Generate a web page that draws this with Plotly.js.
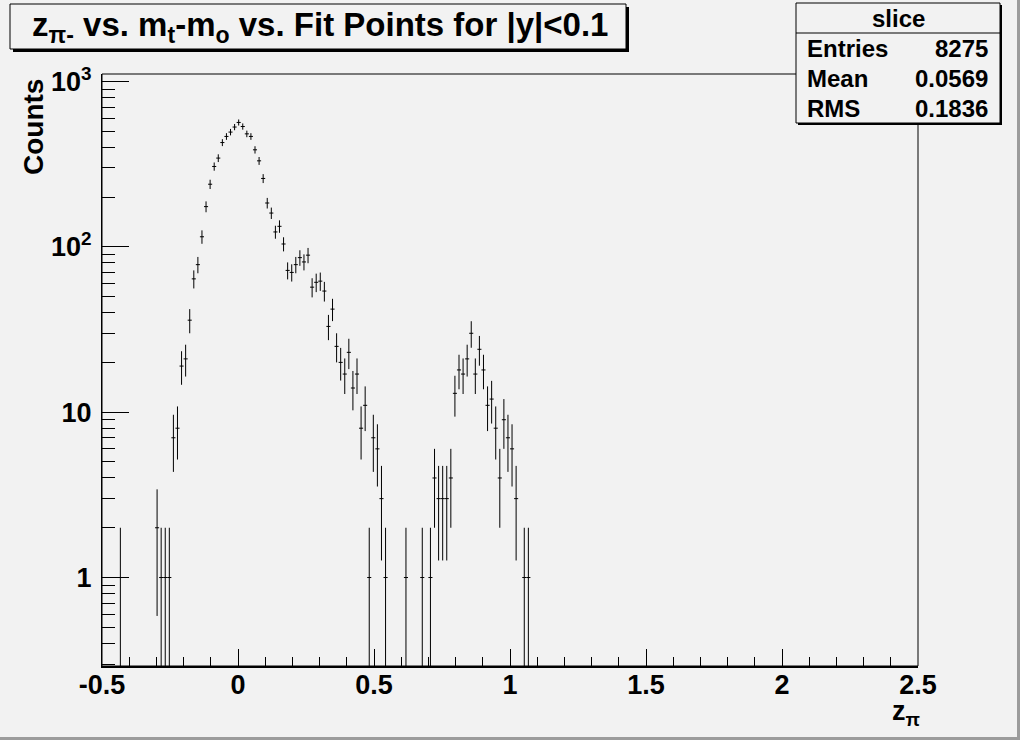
<!DOCTYPE html>
<html><head><meta charset="utf-8">
<script src="https://cdn.plot.ly/plotly-3.0.1.min.js"></script>
<style>html,body{margin:0;padding:0;background:#f2f2f2;overflow:hidden}</style>
</head><body>
<div id="chart" style="width:1020px;height:740px"></div>
<script>
// histogram binning: 200 bins from -0.5 to 2.5
const binLow = -0.5;
const binWidth = 0.015;
// counts per bin, starting at bin 0 (bins after the listed ones are empty)
const counts = [
  0, 0, 0, 0, 1, 0, 0, 0, 0, 0,
  0, 0, 0, 2, 1, 1, 1, 7, 8, 19,
  21, 36, 64, 78, 115, 175, 239, 306, 344, 427,
  465, 494, 530, 565, 534, 482, 465, 386, 331, 259,
  184, 160, 123, 133, 104, 72, 70, 78, 86, 81,
  89, 57, 61, 62, 54, 33, 42, 25, 20, 17,
  23, 14, 17, 8, 11, 1, 7, 6, 3, 1,
  0, 0, 0, 0, 1, 0, 0, 0, 1, 0,
  1, 4, 3, 3, 3, 4, 13, 18, 17, 21,
  30, 17, 24, 18, 11, 12, 8, 4, 9, 7,
  6, 3, 0, 1, 1
];
const xTickVals = [-0.5, 0, 0.5, 1, 1.5, 2, 2.5];
const xTickText = ['-0.5', '0', '0.5', '1', '1.5', '2', '2.5'];
const yTickVals = [1, 10, 100, 1000];
const yTickText = ['1', '10', '10<sup>2</sup>', '10<sup>3</sup>'];
const histName = 'slice';
const statLabels = ['Entries', 'Mean', 'RMS'];
const statValues = ['8275', '0.0569', '0.1836'];
const chartTitle = 'z<sub>π-</sub> vs. m<sub>t</sub>-m<sub>o</sub> vs. Fit Points for |y|&lt;0.1';
const xTitle = 'z<sub>π</sub>';
const yTitle = 'Counts';

// build points for non-empty bins
const xs = [], ys = [], errs = [];
counts.forEach((c, i) => {
  if (c > 0) {
    xs.push(binLow + binWidth * (i + 0.5));
    ys.push(c);
    errs.push(Math.sqrt(c));
  }
});

const W = 1020, H = 740, L = 102, R = 102, T = 74, B = 74;
const pw = W - L - R, ph = H - T - B;
const px = x => (x - L) / pw;
const py = y => (H - B - y) / ph;

const FONT = 'Liberation Sans, Arial, Helvetica, sans-serif';
const BG = '#f2f2f2';

const trace = {
  type: 'scatter', mode: 'markers', x: xs, y: ys,
  marker: {size: 1, color: 'rgba(0,0,0,0)'},
  error_y: {type: 'data', array: errs, visible: true, color: '#000', thickness: 1, width: 0},
  error_x: {type: 'constant', value: binWidth / 2, visible: true, color: '#000', thickness: 1, width: 0},
  hoverinfo: 'skip', showlegend: false
};

const shapes = [
  // canvas bevel
  {type: 'rect', xref: 'paper', yref: 'paper', x0: px(1017), x1: px(1020), y0: py(740), y1: py(0), fillcolor: '#9c9c9c', line: {width: 0}, layer: 'below'},
  {type: 'rect', xref: 'paper', yref: 'paper', x0: px(0), x1: px(1020), y0: py(740), y1: py(737), fillcolor: '#9c9c9c', line: {width: 0}, layer: 'below'},
  // frame
  {type: 'rect', xref: 'paper', yref: 'paper', x0: 0, x1: 1, y0: 0, y1: 1, line: {color: '#000', width: 1}, fillcolor: 'rgba(0,0,0,0)'},
  // title box shadow + box
  {type: 'rect', xref: 'paper', yref: 'paper', x0: px(13), x1: px(629), y0: py(52), y1: py(7), fillcolor: '#000', line: {width: 0}},
  {type: 'rect', xref: 'paper', yref: 'paper', x0: px(10), x1: px(626), y0: py(49), y1: py(4), fillcolor: BG, line: {color: '#000', width: 1}},
  // stats box shadow + box
  {type: 'rect', xref: 'paper', yref: 'paper', x0: px(798), x1: px(1002), y0: py(125), y1: py(5), fillcolor: '#000', line: {width: 0}},
  {type: 'rect', xref: 'paper', yref: 'paper', x0: px(796), x1: px(1000), y0: py(123), y1: py(3), fillcolor: BG, line: {color: '#000', width: 1}},
  {type: 'line', xref: 'paper', yref: 'paper', x0: px(796), x1: px(1000), y0: py(33), y1: py(33), line: {color: '#000', width: 1}}
];

const annotations = [
  {text: chartTitle, xref: 'paper', yref: 'paper', x: px(320), y: py(27), xanchor: 'center', yanchor: 'middle', showarrow: false,
   font: {family: FONT, size: 33, color: '#000', weight: 'bold'}},
  {text: histName, xref: 'paper', yref: 'paper', x: px(898), y: py(19), xanchor: 'center', yanchor: 'middle', showarrow: false,
   font: {family: FONT, size: 24, color: '#000', weight: 'bold'}},
  {text: yTitle, xref: 'paper', yref: 'paper', x: px(34), y: py(127), xanchor: 'center', yanchor: 'middle', textangle: -90, showarrow: false,
   font: {family: FONT, size: 28, color: '#000', weight: 'bold'}},
  {text: xTitle, xref: 'paper', yref: 'paper', x: px(922), y: py(713), xanchor: 'right', yanchor: 'middle', showarrow: false,
   font: {family: FONT, size: 27, color: '#000', weight: 'bold'}}
];
const statY = [49, 78, 108];
statLabels.forEach((lab, k) => {
  annotations.push({text: lab, xref: 'paper', yref: 'paper', x: px(805), y: py(statY[k]), xanchor: 'left', yanchor: 'middle', showarrow: false,
    font: {family: FONT, size: 24, color: '#000', weight: 'bold'}});
  annotations.push({text: statValues[k], xref: 'paper', yref: 'paper', x: px(990), y: py(statY[k]), xanchor: 'right', yanchor: 'middle', showarrow: false,
    font: {family: FONT, size: 24, color: '#000', weight: 'bold'}});
});

const layout = {
  width: W, height: H,
  margin: {l: L, r: R, t: T, b: B, pad: 0},
  paper_bgcolor: BG, plot_bgcolor: BG,
  showlegend: false,
  xaxis: {
    range: [-0.5, 2.5], showgrid: false, zeroline: false,
    showline: true, linecolor: '#000', linewidth: 2,
    tickmode: 'array', tickvals: xTickVals, ticktext: xTickText,
    ticks: 'inside', ticklen: 17, tickwidth: 1, tickcolor: '#000',
    minor: {ticks: 'inside', ticklen: 9, tickwidth: 1, tickcolor: '#000', dtick: 0.1, tick0: 0},
    tickfont: {family: FONT, size: 27, color: '#000', weight: 'bold'},
    ticklabelstandoff: -6
  },
  yaxis: {
    type: 'log', range: [-0.535, 3.045], showgrid: false, zeroline: false,
    showline: true, linecolor: '#000', linewidth: 1,
    tickmode: 'array', tickvals: yTickVals, ticktext: yTickText,
    ticks: 'inside', ticklen: 27, tickwidth: 1, tickcolor: '#000',
    minor: {ticks: 'inside', ticklen: 13, tickwidth: 1, tickcolor: '#000', dtick: 'D1'},
    tickfont: {family: FONT, size: 27, color: '#000', weight: 'bold'},
    ticklabelstandoff: 4
  },
  shapes: shapes,
  annotations: annotations
};

Plotly.newPlot('chart', [trace], layout, {displayModeBar: false, staticPlot: true});
</script>
</body></html>
